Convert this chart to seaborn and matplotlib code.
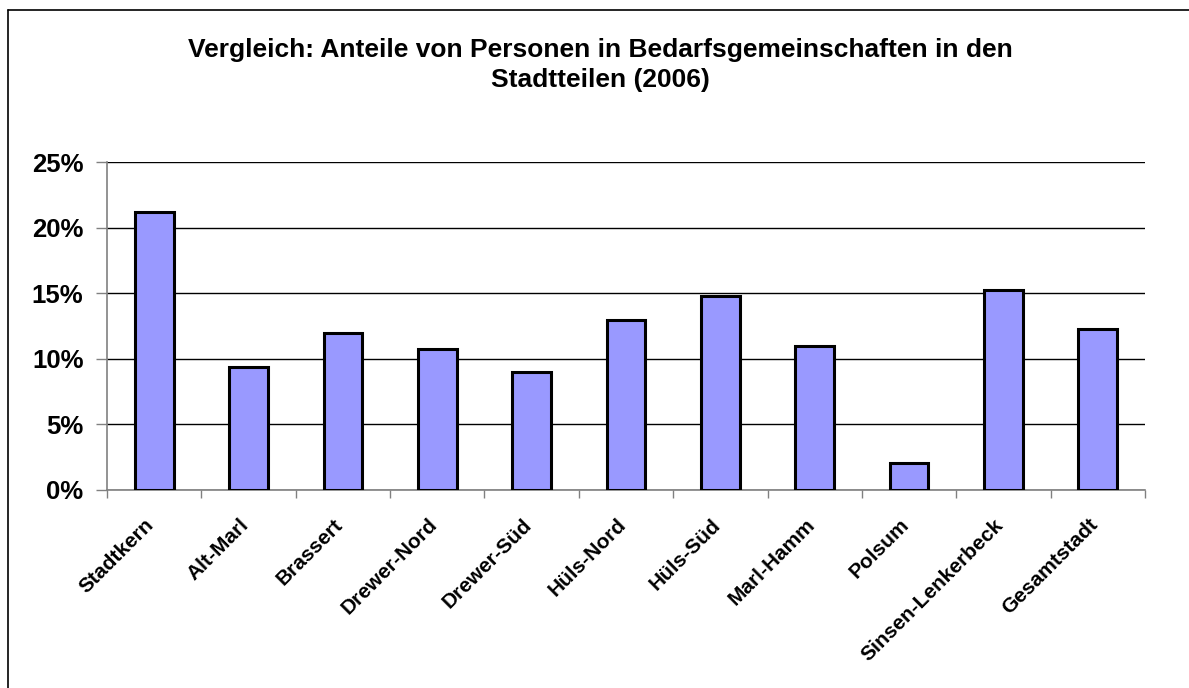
import matplotlib
matplotlib.use("Agg")
import matplotlib.pyplot as plt
import matplotlib.transforms as mtransforms
from matplotlib.lines import Line2D
import pandas as pd
import seaborn as sns

# Stadtteile und Anteile (2006)
stadtteile = ["Stadtkern", "Alt-Marl", "Brassert", "Drewer-Nord", "Drewer-Süd",
              "Hüls-Nord", "Hüls-Süd", "Marl-Hamm", "Polsum",
              "Sinsen-Lenkerbeck", "Gesamtstadt"]
anteile = [0.212, 0.0935, 0.120, 0.1075, 0.090, 0.1293, 0.148, 0.1095, 0.0208,
           0.1527, 0.1225]
y_ticks = [0, 0.05, 0.10, 0.15, 0.20, 0.25]
y_labels = ["0%", "5%", "10%", "15%", "20%", "25%"]

df = pd.DataFrame({"stadtteil": stadtteile, "anteil": anteile})

sns.set_style("white")
plt.rcParams["font.family"] = ["Liberation Sans", "DejaVu Sans"]
plt.rcParams["text.color"] = "black"
plt.rcParams["xtick.labelcolor"] = "black"
plt.rcParams["ytick.labelcolor"] = "black"

fig = plt.figure(figsize=(11.89, 6.88), dpi=100)
ax = fig.add_axes([0.09, 0.2878, 0.873, 0.4767])

sns.barplot(data=df, x="stadtteil", y="anteil", color="#9999FF",
            saturation=1, width=0.41, edgecolor="black", linewidth=2.2, ax=ax, zorder=3)

ax.set_xlim(-0.5, len(stadtteile) - 0.5)
ax.set_ylim(0, 0.25)
ax.set_yticks(y_ticks)
ax.set_yticklabels(y_labels, fontsize=18.5, fontweight="bold", color="black")
ax.yaxis.grid(True, color="black", linewidth=1.0, zorder=0)
ax.set_axisbelow(True)

# x-Ticks an den Kategoriegrenzen, Labels in der Mitte
ax.set_xticks([i - 0.5 for i in range(len(stadtteile) + 1)])
ax.set_xticklabels([])
ax.set_xticks(range(len(stadtteile)), minor=True)
ax.set_xticklabels(stadtteile, minor=True, rotation=45, ha="right",
                   va="center", rotation_mode="anchor", fontsize=15,
                   fontweight="bold", color="black")
ax.tick_params(axis="x", which="minor", length=0, pad=23)
ax.tick_params(axis="x", which="major", length=6, width=1, color="#808080",
               direction="out", bottom=True)
ax.tick_params(axis="y", length=8, width=1, color="#808080", direction="out",
               left=True, pad=9)
offset = mtransforms.ScaledTranslation(-0.03, 0, fig.dpi_scale_trans)
for lab in ax.get_xticklabels(minor=True):
    lab.set_transform(lab.get_transform() + offset)

ax.set_xlabel("")
ax.set_ylabel("")
for side in ["top", "right"]:
    ax.spines[side].set_visible(False)
for side in ["left", "bottom"]:
    ax.spines[side].set_color("#808080")
    ax.spines[side].set_linewidth(1.2)

fig.text(0.505, 0.905,
         "Vergleich: Anteile von Personen in Bedarfsgemeinschaften in den\nStadtteilen (2006)",
         ha="center", va="center", fontsize=19, fontweight="bold",
         linespacing=1.32, color="black")

# Rahmen des Diagrammbereichs
fig.add_artist(Line2D([0.0067, 0.0067], [0, 0.9855], color="black",
                      linewidth=1.2, transform=fig.transFigure))
fig.add_artist(Line2D([0.0067, 1], [0.9855, 0.9855], color="black",
                      linewidth=1.2, transform=fig.transFigure))

fig.savefig("out.png", dpi=100, facecolor="white")
